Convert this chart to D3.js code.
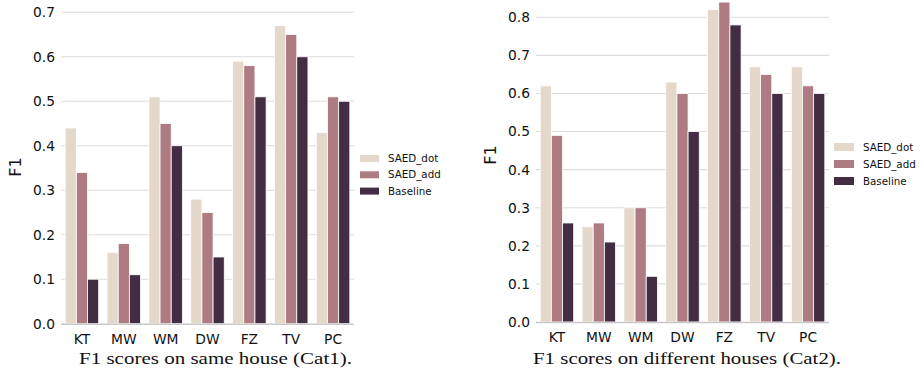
<!DOCTYPE html>
<html><head><meta charset="utf-8">
<script src="https://cdn.jsdelivr.net/npm/d3@7"></script>
<style>body{margin:0;background:#fff}svg{display:block}</style>
</head><body>
<svg id="c" width="923" height="372"></svg>
<script>
const categories = ["KT","MW","WM","DW","FZ","TV","PC"];
const seriesNames = ["SAED_dot","SAED_add","Baseline"];
const cat1_SAED_dot = [0.44,0.16,0.51,0.28,0.59,0.67,0.43];
const cat1_SAED_add = [0.34,0.18,0.45,0.25,0.58,0.65,0.51];
const cat1_Baseline = [0.10,0.11,0.40,0.15,0.51,0.60,0.50];
const cat2_SAED_dot = [0.62,0.25,0.30,0.63,0.82,0.67,0.67];
const cat2_SAED_add = [0.49,0.26,0.30,0.60,0.84,0.65,0.62];
const cat2_Baseline = [0.26,0.21,0.12,0.50,0.78,0.60,0.60];
const ticks1 = [0,0.1,0.2,0.3,0.4,0.5,0.6,0.7];
const ticks2 = [0,0.1,0.2,0.3,0.4,0.5,0.6,0.7,0.8];
const captions = ["F1 scores on same house (Cat1).","F1 scores on different houses (Cat2)."];
const colors = ["#e4d8cb","#ae7b83","#422d42"];

const svg = d3.select("#c");

function panel(cfg){
  const g = svg.append("g");
  const x0 = d3.scaleBand().domain(categories).range([cfg.x0,cfg.x1]).padding(0);
  const inner = d3.scaleBand().domain(seriesNames).range([0,x0.bandwidth()*0.8]);
  const y = d3.scaleLinear().domain([0,cfg.ymax]).range([cfg.ybottom,cfg.ytop]);
  // grid
  g.append("g").selectAll("line").data(cfg.ticks.slice(1)).join("line")
    .attr("x1",cfg.x0).attr("x2",cfg.x1)
    .attr("y1",d=>y(d)).attr("y2",d=>y(d))
    .attr("stroke","#dcdcdc").attr("stroke-width",1.1);
  // bars
  const data=[];
  categories.forEach((c,i)=>seriesNames.forEach((s,j)=>data.push({c,s,j,v:cfg.series[j][i]})));
  g.append("g").selectAll("rect").data(data).join("rect")
    .attr("x",d=>x0(d.c)+x0.bandwidth()*0.1+inner(d.s))
    .attr("width",inner.bandwidth())
    .attr("y",d=>y(d.v)).attr("height",d=>y(0)-y(d.v))
    .attr("fill",d=>colors[d.j]).attr("stroke","#fff").attr("stroke-width",0.8);
  // baseline
  g.append("line").attr("x1",cfg.x0).attr("x2",cfg.x1).attr("y1",y(0)+0.5).attr("y2",y(0)+0.5)
    .attr("stroke","#c8c8c8").attr("stroke-width",1.6);
  // y tick labels
  const ya = d3.axisLeft(y).tickValues(cfg.ticks).tickFormat(d3.format(".1f")).tickSize(0).tickPadding(0);
  const yg = g.append("g").attr("transform",`translate(${cfg.tickRight},0)`).call(ya);
  yg.select(".domain").remove();
  yg.selectAll("text").attr("font-family","DejaVu Sans").attr("font-size",13.8).attr("fill","#111");
  // x labels
  const xa = d3.axisBottom(x0).tickSize(0).tickPadding(0);
  const xg = g.append("g").attr("transform",`translate(0,${cfg.ybottom})`).call(xa);
  xg.select(".domain").remove();
  xg.selectAll("text").attr("dy",null).attr("y",20).attr("font-family","DejaVu Sans").attr("font-size",13.8).attr("fill","#111");
  // y label
  g.append("text").attr("transform",`translate(${cfg.ylabX},${cfg.ylabY}) rotate(-90)`)
    .attr("text-anchor","middle").attr("font-family","DejaVu Sans").attr("font-size",16).attr("fill","#111").text("F1");
  // caption
  g.append("text").attr("x",cfg.capX).attr("y",364).attr("font-family","Liberation Serif").attr("font-size",17.5)
    .attr("fill","#111").attr("textLength",cfg.capW).attr("lengthAdjust","spacingAndGlyphs").text(cfg.caption);
  // legend
  const lg = g.append("g").attr("transform",`translate(${cfg.legX},${cfg.legY})`);
  seriesNames.forEach((s,j)=>{
    lg.append("rect").attr("x",0).attr("y",j*cfg.legStep-cfg.swH/2).attr("width",cfg.swW).attr("height",cfg.swH).attr("fill",colors[j]);
    lg.append("text").attr("x",cfg.legTextDx).attr("y",j*cfg.legStep).attr("dy","0.35em")
      .attr("font-family","DejaVu Sans").attr("font-size",10.3).attr("fill","#111").text(s);
  });
}

panel({x0:61,x1:354,ybottom:323.7,ytop:12.3,ymax:0.7,ticks:ticks1,tickRight:55,
  series:[cat1_SAED_dot,cat1_SAED_add,cat1_Baseline],ylabX:21,ylabY:167,
  caption:captions[0],capX:79,capW:273,legX:360,legY:158.5,legStep:16.3,swW:19,swH:7,legTextDx:28});
panel({x0:536,x1:829,ybottom:322,ytop:17.3,ymax:0.8,ticks:ticks2,tickRight:530,
  series:[cat2_SAED_dot,cat2_SAED_add,cat2_Baseline],ylabX:496,ylabY:155,
  caption:captions[1],capX:533,capW:308,legX:834,legY:147,legStep:17,swW:20,swH:8,legTextDx:29});
</script>
</body></html>
